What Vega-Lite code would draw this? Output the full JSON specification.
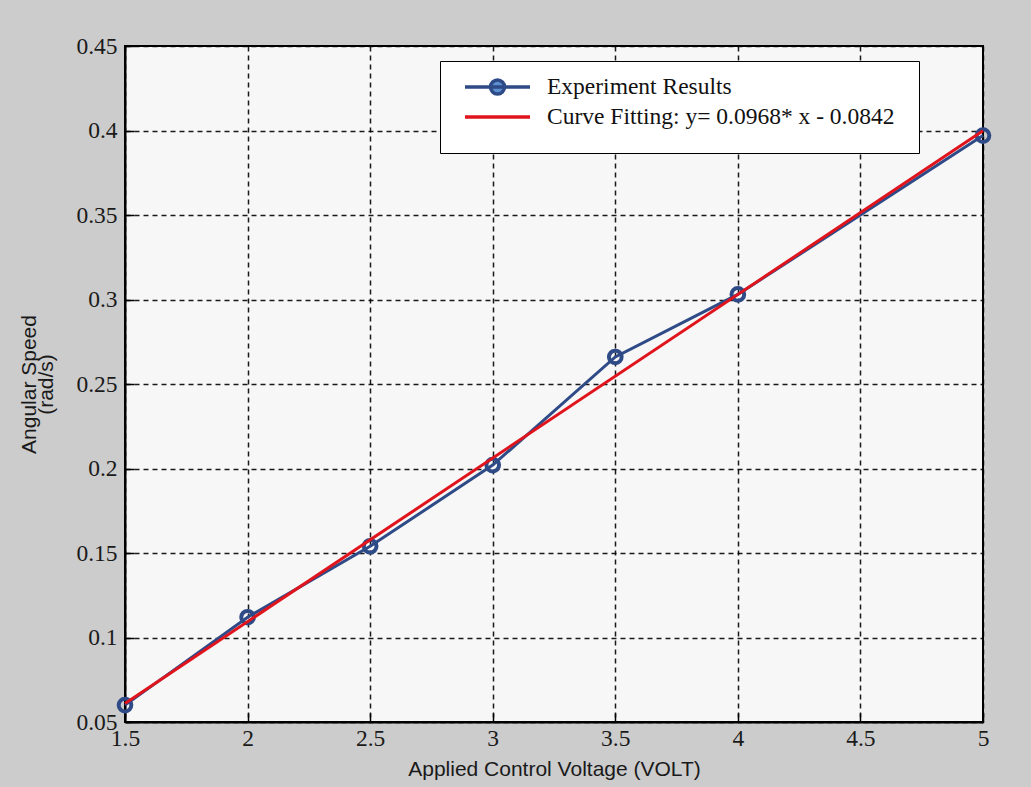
{
  "$schema": "https://vega.github.io/schema/vega-lite/v6.json",
  "width": 858,
  "height": 676,
  "autosize": {"type": "none"},
  "padding": {"left": 125, "top": 46, "right": 48, "bottom": 65},
  "background": "#cccccc",
  "config": {
    "view": {"fill": "#f7f7f7", "stroke": "#000000", "strokeWidth": 2},
    "axis": {
      "labelFont": "Liberation Serif",
      "labelFontSize": 23.5,
      "labelColor": "#1a1a1a",
      "labelFlush": false,
      "titleFont": "Liberation Sans",
      "titleFontSize": 21,
      "titleFontWeight": "normal",
      "titleColor": "#1a1a1a",
      "domainColor": "#000000",
      "domainWidth": 2,
      "tickColor": "#000000",
      "tickWidth": 1.5,
      "tickSize": -9,
      "grid": true,
      "gridColor": "#000000",
      "gridOpacity": 0.9,
      "gridDash": [5, 4],
      "gridWidth": 1.5
    },
    "legend": {
      "labelFont": "Liberation Serif",
      "labelFontSize": 23.5,
      "labelColor": "#111111",
      "labelLimit": 600
    }
  },
  "data": {
    "values": [
      {"V": 1.5, "speed": 0.060, "series": "Experiment Results"},
      {"V": 2.0, "speed": 0.112, "series": "Experiment Results"},
      {"V": 2.5, "speed": 0.154, "series": "Experiment Results"},
      {"V": 3.0, "speed": 0.202, "series": "Experiment Results"},
      {"V": 3.5, "speed": 0.266, "series": "Experiment Results"},
      {"V": 4.0, "speed": 0.303, "series": "Experiment Results"},
      {"V": 5.0, "speed": 0.397, "series": "Experiment Results"},
      {"V": 1.5, "speed": 0.061, "series": "Curve Fitting: y= 0.0968* x - 0.0842"},
      {"V": 5.0, "speed": 0.3998, "series": "Curve Fitting: y= 0.0968* x - 0.0842"}
    ]
  },
  "encoding": {
    "x": {
      "field": "V",
      "type": "quantitative",
      "scale": {"domain": [1.5, 5], "nice": false, "zero": false},
      "axis": {
        "title": "Applied Control Voltage (VOLT)",
        "values": [1.5, 2, 2.5, 3, 3.5, 4, 4.5, 5],
        "format": "~g",
        "labelPadding": 13,
        "titlePadding": 9
      }
    },
    "y": {
      "field": "speed",
      "type": "quantitative",
      "scale": {"domain": [0.05, 0.45], "nice": false, "zero": false},
      "axis": {
        "title": ["Angular Speed", "(rad/s)"],
        "values": [0.05, 0.1, 0.15, 0.2, 0.25, 0.3, 0.35, 0.4, 0.45],
        "format": ".2~f",
        "labelPadding": 17,
        "titleX": -86,
        "titleLineHeight": 17
      }
    }
  },
  "layer": [
    {
      "transform": [{"filter": "datum.series === 'Experiment Results'"}],
      "mark": {"type": "line", "strokeWidth": 3, "clip": false},
      "encoding": {
        "color": {
          "field": "series",
          "type": "nominal",
          "scale": {
            "domain": ["Experiment Results", "Curve Fitting: y= 0.0968* x - 0.0842"],
            "range": ["#2e4a87", "#e0141c"]
          },
          "legend": {
            "title": null,
            "orient": "none",
            "legendX": 315,
            "legendY": 15,
            "padding": 24,
            "fillColor": "#ffffff",
            "strokeColor": "#000000",
            "symbolSize": 400,
            "symbolOffset": 21.5,
            "symbolStrokeWidth": 3.5,
            "labelOffset": 37.5,
            "rowPadding": 4,
            "encode": {
              "labels": {"update": {"dy": {"value": -10}}},
              "symbols": {
                "update": {
                  "shape": [
                    {"test": "datum.value === 'Experiment Results'", "value": "M-3.25,-1H3.25M0.7,-1A0.7,0.7,0,1,1,-0.7,-1A0.7,0.7,0,1,1,0.7,-1Z"},
                    {"value": "M-3.25,-1H3.25"}
                  ],
                  "stroke": [
                    {"test": "datum.value === 'Experiment Results'", "value": "#3f6aa8"},
                    {"value": "#c0504d"}
                  ],
                  "fill": [
                    {"test": "datum.value === 'Experiment Results'", "value": "#5b8fd0"},
                    {"value": "transparent"}
                  ],
                  "strokeWidth": {"value": 3.5}
                }
              }
            }
          }
        }
      }
    },
    {
      "transform": [{"filter": "datum.series === 'Experiment Results'"}],
      "mark": {"type": "point", "shape": "circle", "filled": false, "size": 160, "strokeWidth": 4, "color": "#2e4a87", "opacity": 1, "clip": false}
    },
    {
      "transform": [{"filter": "datum.series !== 'Experiment Results'"}],
      "mark": {"type": "line", "strokeWidth": 3, "clip": false},
      "encoding": {
        "color": {"field": "series", "type": "nominal"}
      }
    }
  ]
}
